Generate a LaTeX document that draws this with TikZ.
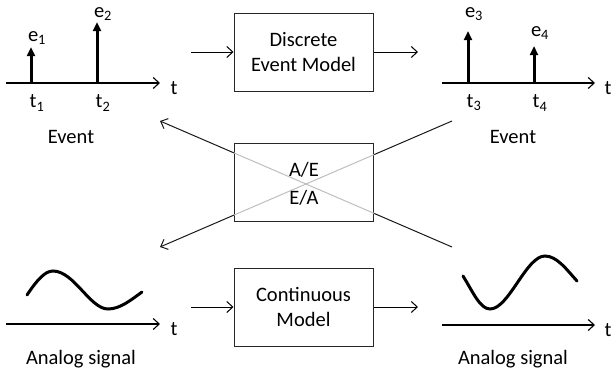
\documentclass[tikz,border=0pt]{standalone}
\usepackage{fontspec}
\setmainfont{Carlito}
\usetikzlibrary{arrows.meta}
\tikzset{
  lbl/.style={font=\fontsize{20.5}{24}\selectfont, inner sep=0pt},
  modelbox/.style={draw=black!85, line width=1pt, fill=white, minimum width=139pt, minimum height=78pt, inner sep=0pt, align=center, font=\fontsize{20.5}{25}\selectfont},
  flow/.style={line width=1pt, -{Straight Barb[length=6pt,width=11pt]}},
  axis/.style={line width=1.1pt, -{Straight Barb[length=6pt,width=11pt]}},
  spike/.style={line width=3pt, -{Triangle[length=9pt,width=8pt]}},
  wave/.style={line width=3pt, line cap=round},
  conv/.style={line width=1pt, black!90}
}
\begin{document}
\begin{tikzpicture}[x=1pt,y=-1pt]
\useasboundingbox (0,0) rectangle (614,372);

% ---- top left: events e1, e2
\coordinate (a1s) at (6,83);  \coordinate (a1e) at (160,83);
\draw[axis] (a1s) -- (a1e);
\node[lbl] (tA) at (174,88) {t};
\coordinate (s1b) at (31,84); \coordinate (s1t) at (31,47);
\coordinate (s2b) at (97,84); \coordinate (s2t) at (97,22);
\draw[spike] (s1b) -- (s1t);
\draw[spike] (s2b) -- (s2t);
\node[lbl] (e1) at (37,38) {e\textsubscript{1}};
\node[lbl] (e2) at (103,14) {e\textsubscript{2}};
\node[lbl] (t1) at (37,103) {t\textsubscript{1}};
\node[lbl] (t2) at (103,103) {t\textsubscript{2}};
\node[lbl] (evA) at (71,137) {Event};

% ---- top right: events e3, e4
\coordinate (a2s) at (442,83);  \coordinate (a2e) at (595,83);
\draw[axis] (a2s) -- (a2e);
\node[lbl] (tB) at (608,88) {t};
\coordinate (s3b) at (468,84); \coordinate (s3t) at (468,31);
\coordinate (s4b) at (534,84); \coordinate (s4t) at (534,46);
\draw[spike] (s3b) -- (s3t);
\draw[spike] (s4b) -- (s4t);
\node[lbl] (e3) at (474,14) {e\textsubscript{3}};
\node[lbl] (e4) at (540,33) {e\textsubscript{4}};
\node[lbl] (t3) at (474,103) {t\textsubscript{3}};
\node[lbl] (t4) at (540,103) {t\textsubscript{4}};
\node[lbl] (evB) at (513,137) {Event};

% ---- discrete event model
\node[modelbox] (dem) at (303.5,52) {Discrete\\Event Model};
\coordinate (din) at (191,52); \coordinate (dout) at (418,52);
\draw[flow] (din) -- (dem.west);
\draw[flow] (dem.east) -- (dout);

% ---- continuous model
\node[modelbox] (cm) at (303.5,307) {Continuous\\Model};
\coordinate (cin) at (191,307); \coordinate (cout) at (418,307);
\draw[flow] (cin) -- (cm.west);
\draw[flow] (cm.east) -- (cout);

% ---- crossing conversion paths through the A/E box
\coordinate (ur) at (452,121); \coordinate (ll) at (160,247);
\coordinate (lr) at (452,247); \coordinate (ul) at (160,121);
\draw[conv, -{Straight Barb[length=6pt,width=11pt]}] (ur) -- (ll);
\draw[conv, -{Straight Barb[length=6pt,width=11pt]}] (lr) -- (ul);
\node[modelbox] (ae) at (304,182.5) {};
\begin{scope}
  \clip (ae.south west) rectangle (ae.north east);
  \draw[line width=1pt, black!25] (ur) -- (ll);
  \draw[line width=1pt, black!25] (lr) -- (ul);
\end{scope}
\node[lbl] (aeT) at (304,170) {A/E};
\node[lbl] (eaT) at (304,198) {E/A};

% ---- bottom left: analog signal
\coordinate (a3s) at (6,324);  \coordinate (a3e) at (160,324);
\draw[axis] (a3s) -- (a3e);
\node[lbl] (tC) at (174,329) {t};
\draw[wave] (27,295) .. controls (37,280) and (45,271) .. (53,271)
  .. controls (74,271) and (90,309) .. (108,309)
  .. controls (120,309) and (131,300) .. (142,292);
\node[lbl] (asA) at (81,359) {Analog signal};

% ---- bottom right: analog signal
\coordinate (a4s) at (442,325);  \coordinate (a4e) at (595,325);
\draw[axis] (a4s) -- (a4e);
\node[lbl] (tD) at (608,330) {t};
\draw[wave] (463,276) .. controls (473,292) and (480,309) .. (490,309)
  .. controls (509,309) and (526,256) .. (545,256)
  .. controls (557,256) and (567,270) .. (577,281);
\node[lbl] (asB) at (513,359) {Analog signal};
\end{tikzpicture}
\end{document}
